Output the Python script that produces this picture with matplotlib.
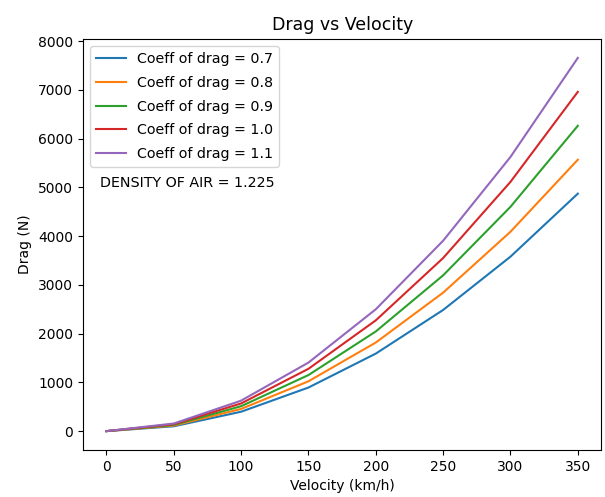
"""Drag vs velocity for several drag coefficients."""
import matplotlib
matplotlib.use("Agg")
import matplotlib.pyplot as plt

velocity = [0, 50, 100, 150, 200, 250, 300, 350]
coeffs = [0.7, 0.8, 0.9, 1.0, 1.1]

# drag (N), one list per coefficient
drag_07 = [0, 99, 398, 894, 1590, 2485, 3578, 4870]
drag_08 = [0, 114, 455, 1022, 1817, 2840, 4089, 5566]
drag_09 = [0, 128, 511, 1150, 2044, 3195, 4600, 6262]
drag_10 = [0, 142, 568, 1278, 2272, 3550, 5112, 6958]
drag_11 = [0, 156, 625, 1406, 2499, 3905, 5623, 7654]
drags = [drag_07, drag_08, drag_09, drag_10, drag_11]

fig, ax = plt.subplots(figsize=(6.05, 4.97), dpi=100)
fig.subplots_adjust(left=0.137, right=0.994, bottom=0.095, top=0.921)

for cd, d in zip(coeffs, drags):
    ax.plot(velocity, d, label=f"Coeff of drag = {cd}")

ax.text(-5, 5000, "DENSITY OF AIR = 1.225", fontsize=10.3)
ax.set_title("Drag vs Velocity", fontsize=12.5, pad=7)
ax.set_xlabel("Velocity (km/h)")
ax.set_ylabel("Drag (N)")
ax.legend(loc="upper left", fontsize=10.3, labelspacing=0.68,
          handlelength=2.1)

fig.savefig("out.png", dpi=100)
